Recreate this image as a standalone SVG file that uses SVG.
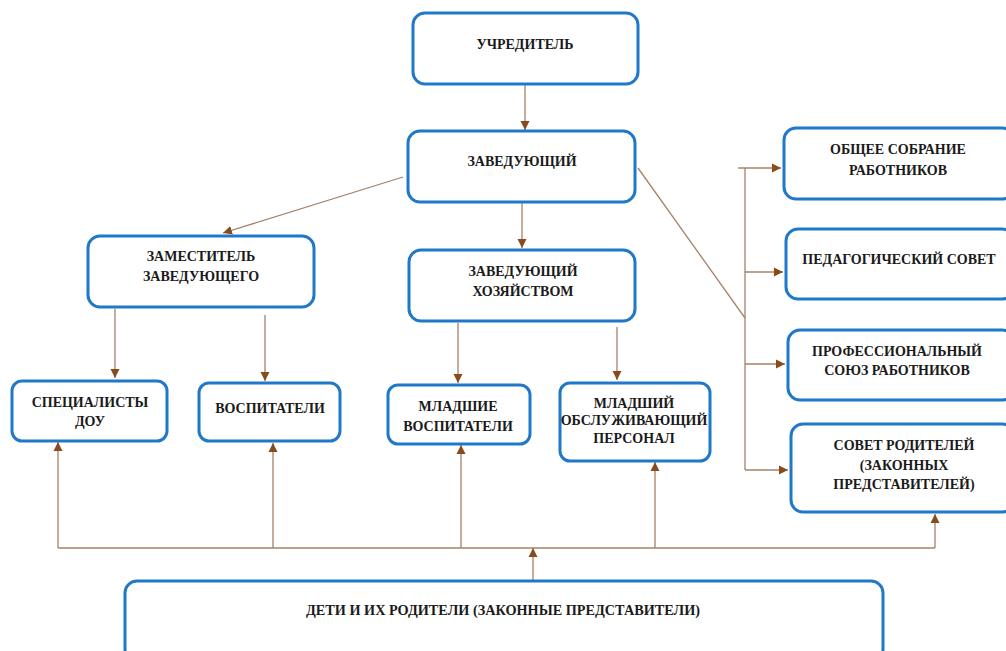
<svg xmlns="http://www.w3.org/2000/svg" width="1006" height="651" viewBox="0 0 1006 651">
<style>
.box{fill:#fff;stroke:#1f78c8;stroke-width:3}
.t{font-family:"Liberation Serif",serif;font-weight:bold;font-size:14px;fill:#1a1a1a;text-anchor:middle}
.c{stroke:#a8806a;stroke-width:1.3;fill:none}
</style>
<defs>
<marker id="a" markerWidth="10" markerHeight="10" refX="9" refY="5" orient="auto" markerUnits="userSpaceOnUse">
<path d="M0,0.5 L9,5 L0,9.5 Z" fill="#8b4a1c"/>
</marker>
</defs>
<rect width="1006" height="651" fill="#fff"/>
<g id="connectors">
<line class="c" x1="525" y1="85" x2="525" y2="130" marker-end="url(#a)"/>
<line class="c" x1="522" y1="203" x2="522" y2="248" marker-end="url(#a)"/>
<line class="c" x1="403" y1="177" x2="223" y2="233" marker-end="url(#a)"/>
<line class="c" x1="115" y1="309" x2="115" y2="378" marker-end="url(#a)"/>
<line class="c" x1="265" y1="315" x2="265" y2="381" marker-end="url(#a)"/>
<line class="c" x1="458" y1="323" x2="458" y2="383" marker-end="url(#a)"/>
<line class="c" x1="617" y1="327" x2="617" y2="380" marker-end="url(#a)"/>
<line class="c" x1="638" y1="168" x2="745" y2="318"/>
<line class="c" x1="745" y1="168" x2="745" y2="470"/>
<line class="c" x1="738" y1="168" x2="781" y2="168" marker-end="url(#a)"/>
<line class="c" x1="745" y1="272" x2="783" y2="272" marker-end="url(#a)"/>
<line class="c" x1="745" y1="364" x2="785" y2="364" marker-end="url(#a)"/>
<line class="c" x1="745" y1="470" x2="788" y2="470" marker-end="url(#a)"/>
<line class="c" x1="58" y1="548" x2="935" y2="548"/>
<line class="c" x1="58" y1="548" x2="58" y2="442" marker-end="url(#a)"/>
<line class="c" x1="273" y1="548" x2="273" y2="443" marker-end="url(#a)"/>
<line class="c" x1="461" y1="548" x2="461" y2="445" marker-end="url(#a)"/>
<line class="c" x1="655" y1="548" x2="655" y2="462" marker-end="url(#a)"/>
<line class="c" x1="935" y1="548" x2="935" y2="514" marker-end="url(#a)"/>
<line class="c" x1="533" y1="580" x2="533" y2="548" marker-end="url(#a)"/>
</g>
<g id="uchreditel"><rect class="box" x="413" y="13" width="225" height="71" rx="12"/><text class="t" x="525" y="49">УЧРЕДИТЕЛЬ</text></g>
<g id="zaveduyushchiy"><rect class="box" x="408" y="131" width="227" height="71" rx="12"/><text class="t" x="522" y="166">ЗАВЕДУЮЩИЙ</text></g>
<g id="zamestitel"><rect class="box" x="88" y="236" width="226" height="71" rx="12"/><text class="t" x="201" y="261">ЗАМЕСТИТЕЛЬ</text><text class="t" x="201" y="281">ЗАВЕДУЮЩЕГО</text></g>
<g id="zavhoz"><rect class="box" x="409" y="250" width="226" height="71" rx="12"/><text class="t" x="523" y="276">ЗАВЕДУЮЩИЙ</text><text class="t" x="523" y="296">ХОЗЯЙСТВОМ</text></g>
<g id="specialisty"><rect class="box" x="12" y="381" width="155" height="60" rx="10"/><text class="t" x="90" y="407">СПЕЦИАЛИСТЫ</text><text class="t" x="90" y="426">ДОУ</text></g>
<g id="vospitateli"><rect class="box" x="199" y="383" width="141" height="58" rx="10"/><text class="t" x="270" y="413">ВОСПИТАТЕЛИ</text></g>
<g id="mladshie"><rect class="box" x="388" y="385" width="142" height="59" rx="10"/><text class="t" x="458" y="411">МЛАДШИЕ</text><text class="t" x="458" y="431">ВОСПИТАТЕЛИ</text></g>
<g id="personal"><rect class="box" x="560" y="383" width="150" height="78" rx="10"/><text class="t" x="634" y="408">МЛАДШИЙ</text><text class="t" x="634" y="425">ОБСЛУЖИВАЮЩИЙ</text><text class="t" x="634" y="443">ПЕРСОНАЛ</text></g>
<g id="obshchee"><rect class="box" x="784" y="128" width="230" height="71" rx="12"/><text class="t" x="898" y="154">ОБЩЕЕ СОБРАНИЕ</text><text class="t" x="898" y="175">РАБОТНИКОВ</text></g>
<g id="pedsovet"><rect class="box" x="786" y="229" width="228" height="70" rx="12"/><text class="t" x="899" y="264">ПЕДАГОГИЧЕСКИЙ СОВЕТ</text></g>
<g id="profsoyuz"><rect class="box" x="788" y="330" width="226" height="70" rx="12"/><text class="t" x="897" y="356">ПРОФЕССИОНАЛЬНЫЙ</text><text class="t" x="897" y="375">СОЮЗ РАБОТНИКОВ</text></g>
<g id="sovet"><rect class="box" x="791" y="424" width="223" height="88" rx="12"/><text class="t" x="904" y="450">СОВЕТ РОДИТЕЛЕЙ</text><text class="t" x="904" y="470">(ЗАКОННЫХ</text><text class="t" x="904" y="489">ПРЕДСТАВИТЕЛЕЙ)</text></g>
<g id="deti"><rect class="box" x="125" y="581" width="758" height="80" rx="12"/><text class="t" x="503" y="615" textLength="394" lengthAdjust="spacingAndGlyphs">ДЕТИ И ИХ РОДИТЕЛИ (ЗАКОННЫЕ ПРЕДСТАВИТЕЛИ)</text></g>
</svg>
